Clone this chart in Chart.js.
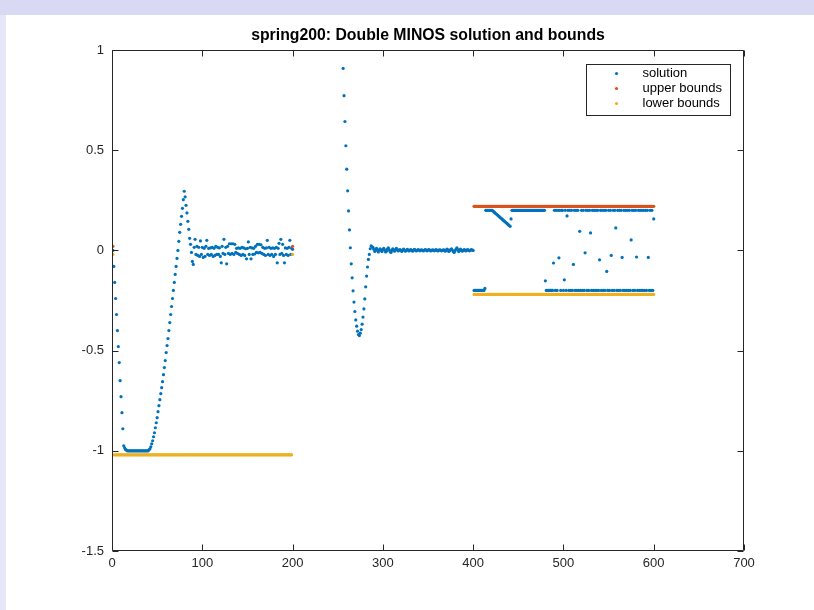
<!DOCTYPE html>
<html>
<head>
<meta charset="utf-8">
<script src="https://cdn.jsdelivr.net/npm/chart.js@4.4.0/dist/chart.umd.min.js"></script>
<style>
  html, body { margin: 0; padding: 0; }
  body { width: 814px; height: 610px; overflow: hidden; background: #e6e6f8; position: relative; }
  #band { position: absolute; left: 0; top: 0; width: 814px; height: 15px; background: #d9d9f3; }
  #sheet { position: absolute; left: 6px; top: 15px; width: 808px; height: 595px; background: #fff; }
  #chart { position: absolute; left: 0; top: 0; }
</style>
</head>
<body>
<div id="band"></div>
<div id="sheet"></div>
<canvas id="chart" width="814" height="610"></canvas>
<script>
// one value per variable, variables numbered 1..600
const seg1Start = 1;
const solSeg1 = [
  0, -0.08, -0.16, -0.24, -0.32, -0.40, -0.48, -0.56, -0.65, -0.73,
  -0.81, -0.89, -0.975, -0.985, -0.993, -0.997, -1, -1, -1, -1,
  -1, -1, -1, -1, -1, -1, -1, -1, -1, -1,
  -1, -1, -1, -1, -1, -1, -1, -1, -1, -1,
  -0.995, -0.99, -0.98, -0.965, -0.95, -0.93, -0.91, -0.885, -0.86, -0.835,
  -0.805, -0.775, -0.745, -0.715, -0.685, -0.655, -0.62, -0.585, -0.55, -0.51,
  -0.475, -0.44, -0.40, -0.36, -0.32, -0.28, -0.24, -0.20, -0.16, -0.12,
  -0.08, -0.04, 0.0, 0.045, 0.09, 0.13, 0.17, 0.21, 0.253, 0.295,
  0.267, 0.225, 0.187, 0.145, 0.105, 0.06, 0.03, -0.01, -0.055, -0.07,
  0.015, 0.055, -0.02, 0.02, -0.025, 0.015, -0.03, 0.047, -0.02, 0.015,
  -0.035, 0.01, -0.03, 0.02, 0.05, -0.02, 0.01, -0.025, 0.012, -0.02,
  0.015, -0.03, 0.01, -0.025, 0.02, -0.02, 0.015, -0.02, 0.012, -0.03,
  -0.062, 0.02, -0.015, 0.055, -0.02, 0.015, -0.067, 0.02, -0.015, 0.033,
  -0.02, 0.033, -0.015, 0.033, -0.02, 0.03, -0.01, 0.01, -0.015, 0.012,
  -0.02, 0.01, -0.025, 0.015, -0.02, 0.012, -0.025, 0.008, -0.042, 0.01,
  0.042, -0.02, 0.015, -0.042, 0.012, -0.02, 0.01, -0.018, 0.02, -0.01,
  0.03, -0.012, 0.03, -0.01, 0.028, -0.015, 0.015, -0.02, 0.01, -0.025,
  0.012, 0.05, -0.02, 0.015, -0.025, 0.01, -0.02, 0.012, -0.03, 0.01,
  -0.02, 0.015, -0.062, 0.01, 0.035, -0.02, 0.055, -0.015, 0.03, -0.025,
  -0.062, 0.012, -0.02, 0.01, -0.025, 0.015, 0.05, -0.02, 0.01, 0.005
];

// variables 201-255 are above the top of the axes, so they are not listed
const seg2Start = 256;
const solSeg2 = [
  0.908, 0.772, 0.643, 0.522, 0.405, 0.297, 0.197, 0.102, 0.013, -0.067,
  -0.137, -0.202, -0.258, -0.305, -0.347, -0.378, -0.403, -0.42, -0.425, -0.413,
  -0.395, -0.368, -0.333, -0.292, -0.242, -0.182, -0.128, -0.083, -0.045, -0.02,
  0.008, 0.022, 0.018,
  0.015, 0.005, -0.005, 0.0, 0.01, 0.003, -0.008, 0.002, 0.008, 0.0,
  -0.006, 0.004, 0.01, 0.002, -0.008, -0.004, 0.006, 0.012, 0.004, -0.006,
  -0.01, 0.0, 0.008, 0.003, -0.004, 0.002, 0.01, 0.004, -0.003, 0.001,
  0.004, 0.0, -0.005, 0.002, 0.006, 0.001, -0.004, 0.0, 0.005, 0.002,
  -0.003, 0.001, 0.004, 0.0, -0.004, 0.002, 0.005, 0.001, -0.003, 0.0,
  0.004, 0.002, -0.002, 0.001, 0.003, 0.0, -0.003, 0.002, 0.004, 0.001,
  -0.002, 0.001, 0.004, 0.002, -0.003, 0.0, 0.003, 0.001, -0.002, 0.002,
  0.004, 0.0, -0.003, 0.001, 0.003, 0.001, -0.002, 0.0, 0.003, 0.002,
  -0.004, 0.0, 0.006, 0.003, -0.005, -0.002, 0.004, 0.008, 0.002, -0.006,
  -0.01, -0.002, 0.006, 0.012, 0.004, -0.006, 0.0, 0.006, 0.002, -0.004,
  0.0, 0.004, 0.001, -0.003, 0.002, 0.004, 0.0, -0.002, 0.002, 0.004,
  0.001, 0.0
];

const seg3Start = 401;
const solSeg3 = [
  -0.2, -0.2, -0.2, -0.2, -0.2, -0.2, -0.2, -0.2, -0.2, -0.2,
  -0.2, -0.2, -0.19, 0.2, 0.2, 0.2, 0.2, 0.2, 0.2, 0.2,
  0.2, 0.196, 0.192, 0.188, 0.184, 0.18, 0.176, 0.172, 0.168, 0.164,
  0.16, 0.156, 0.152, 0.148, 0.144, 0.14, 0.136, 0.132, 0.128, 0.124,
  0.12, 0.157, 0.2, 0.2, 0.2, 0.2, 0.2, 0.2, 0.2, 0.2,
  0.2, 0.2, 0.2, 0.2, 0.2, 0.2, 0.2, 0.2, 0.2, 0.2,
  0.2, 0.2, 0.2, 0.2, 0.2, 0.2, 0.2, 0.2, 0.2, 0.2,
  0.2, 0.2, 0.2, 0.2, 0.2, 0.2, 0.2, 0.2, 0.2, -0.152,
  -0.2, -0.2, -0.2, -0.2, -0.2, -0.2, -0.2, -0.2, -0.063, 0.2,
  -0.2, 0.2, -0.2, 0.2, -0.037, 0.2, -0.2, 0.2, 0.2, -0.2,
  -0.147, 0.2, -0.2, 0.172, 0.2, -0.2, 0.2, -0.2, 0.2, -0.2,
  -0.07, 0.2, -0.2, 0.2, -0.2, 0.2, -0.2, 0.095, -0.2, 0.2,
  -0.2, 0.2, -0.2, -0.012, 0.2, -0.2, 0.2, -0.2, 0.2, 0.087,
  -0.2, 0.2, -0.2, 0.2, -0.2, 0.2, -0.2, 0.2, -0.2, -0.047,
  0.2, -0.2, 0.2, -0.2, 0.2, -0.2, 0.2, -0.105, -0.2, 0.2,
  -0.2, 0.2, -0.025, -0.2, 0.2, -0.2, 0.2, 0.112, -0.2, 0.2,
  -0.2, 0.2, -0.2, 0.2, -0.035, -0.2, 0.2, -0.2, 0.2, -0.2,
  0.2, -0.2, 0.2, -0.2, 0.052, 0.2, -0.2, 0.2, -0.2, 0.2,
  -0.033, -0.2, 0.2, -0.2, 0.2, -0.2, 0.2, -0.2, 0.2, -0.2,
  0.2, -0.2, 0.2, -0.035, -0.2, 0.2, -0.2, 0.2, -0.2, 0.157
];

// bounds (infinite ones are left out)
const fixedIdx = [1, 200];
const fixedUpper = [0.02, 0.02];
const fixedLower = [-0.02, -0.02];
const seg1LowerRange = [2, 199];
const seg1LowerVal = -1.02;
const seg3Range = [401, 600];
const seg3UpperVal = 0.22;
const seg3LowerVal = -0.22;

const xTicks = [0, 100, 200, 300, 400, 500, 600, 700];
const yTicks = [-1.5, -1, -0.5, 0, 0.5, 1];
const seriesNames = ['solution', 'upper bounds', 'lower bounds'];
const seriesColors = ['#0072BD', '#D95319', '#EDB120'];

const axisColor = '#262626';
const fontFamily = "'Liberation Sans', Arial, Helvetica, sans-serif";

function toPoints(start, values) {
  return values.map((v, i) => ({ x: start + i, y: v }));
}

const solutionPts = [
  ...toPoints(seg1Start, solSeg1),
  ...toPoints(seg2Start, solSeg2),
  ...toPoints(seg3Start, solSeg3)
];

const upperPts = fixedIdx.map((x, i) => ({ x: x, y: fixedUpper[i] }));
for (let x = seg3Range[0]; x <= seg3Range[1]; x++) upperPts.push({ x: x, y: seg3UpperVal });

const lowerPts = [{ x: fixedIdx[0], y: fixedLower[0] }];
for (let x = seg1LowerRange[0]; x <= seg1LowerRange[1]; x++) lowerPts.push({ x: x, y: seg1LowerVal });
lowerPts.push({ x: fixedIdx[1], y: fixedLower[1] });
for (let x = seg3Range[0]; x <= seg3Range[1]; x++) lowerPts.push({ x: x, y: seg3LowerVal });

// box round the axes with inward ticks on all four sides, plus the legend
const matlabAxes = {
  id: 'matlabAxes',
  afterDraw(chart) {
    const { ctx, chartArea: a, scales } = chart;
    const L = Math.round(a.left) + 0.5, R = Math.round(a.right) - 0.5;
    const T = Math.round(a.top) + 0.5, B = Math.round(a.bottom) - 0.5;
    const tick = 6;
    ctx.save();
    ctx.strokeStyle = axisColor;
    ctx.lineWidth = 1;
    ctx.beginPath();
    ctx.rect(L, T, R - L, B - T);
    scales.x.ticks.forEach(t => {
      const px = Math.round(scales.x.getPixelForValue(t.value)) + 0.5;
      ctx.moveTo(px, B); ctx.lineTo(px, B - tick);
      ctx.moveTo(px, T); ctx.lineTo(px, T + tick);
    });
    scales.y.ticks.forEach(t => {
      const py = Math.round(scales.y.getPixelForValue(t.value)) + 0.5;
      ctx.moveTo(L, py); ctx.lineTo(L + tick, py);
      ctx.moveTo(R, py); ctx.lineTo(R - tick, py);
    });
    ctx.stroke();

    // legend
    const bw = 144, bh = 51;
    const bx = Math.round(a.right) - 14 - bw + 0.5;
    const by = Math.round(a.top) + 14 + 0.5;
    ctx.fillStyle = '#fff';
    ctx.fillRect(bx, by, bw, bh);
    ctx.strokeRect(bx, by, bw, bh);
    ctx.font = '13px ' + fontFamily;
    ctx.textBaseline = 'middle';
    chart.data.datasets.forEach((ds, i) => {
      const cy = by + 9 + i * 15;
      ctx.fillStyle = ds.pointBackgroundColor;
      ctx.beginPath();
      ctx.arc(bx + 30, cy, 1.6, 0, Math.PI * 2);
      ctx.fill();
      ctx.fillStyle = '#000';
      ctx.fillText(ds.label, bx + 56, cy);
    });
    ctx.restore();
  }
};

const dotStyle = (color) => ({
  showLine: false,
  pointRadius: 1.6,
  pointBorderWidth: 0,
  pointBackgroundColor: color,
  pointBorderColor: color,
  backgroundColor: color,
  borderColor: color
});

new Chart(document.getElementById('chart'), {
  type: 'scatter',
  data: {
    datasets: [
      { label: seriesNames[0], data: solutionPts, order: 3, ...dotStyle(seriesColors[0]) },
      { label: seriesNames[1], data: upperPts, order: 2, ...dotStyle(seriesColors[1]) },
      { label: seriesNames[2], data: lowerPts, order: 1, ...dotStyle(seriesColors[2]) }
    ]
  },
  options: {
    responsive: false,
    animation: false,
    devicePixelRatio: 1,
    events: [],
    layout: { padding: { left: 0, right: 70, top: 0, bottom: 0 } },
    plugins: {
      legend: { display: false },
      tooltip: { enabled: false },
      title: {
        display: true,
        fullSize: false,
        text: 'spring200: Double MINOS solution and bounds',
        color: '#000',
        font: { family: fontFamily, size: 15.8, weight: 'bold', lineHeight: 1.2 },
        padding: { top: 26.5, bottom: 4.5 }
      }
    },
    scales: {
      x: {
        type: 'linear',
        position: 'bottom',
        min: 0,
        max: 700,
        afterBuildTicks: s => { s.ticks = xTicks.map(v => ({ value: v })); },
        afterFit: s => { s.height = 59; },
        grid: { display: false, drawTicks: false },
        border: { display: false },
        ticks: {
          color: axisColor,
          padding: 5,
          maxRotation: 0,
          font: { family: fontFamily, size: 13 },
          callback: v => String(v)
        }
      },
      y: {
        type: 'linear',
        min: -1.5,
        max: 1,
        afterBuildTicks: s => { s.ticks = yTicks.map(v => ({ value: v })); },
        afterFit: s => { s.width = 112; },
        grid: { display: false, drawTicks: false },
        border: { display: false },
        ticks: {
          color: axisColor,
          padding: 8,
          font: { family: fontFamily, size: 13 },
          callback: v => String(+v.toFixed(2))
        }
      }
    }
  },
  plugins: [matlabAxes]
});
</script>
</body>
</html>
